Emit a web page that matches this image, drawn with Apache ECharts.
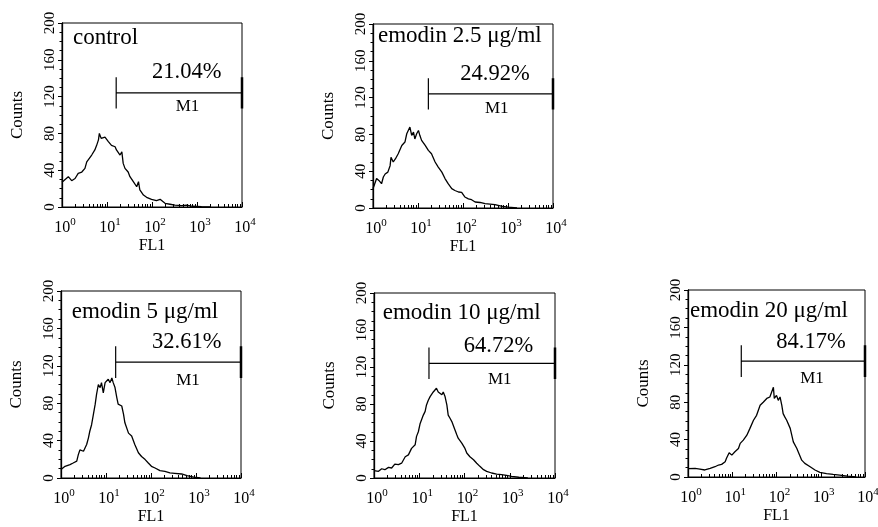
<!DOCTYPE html>
<html><head><meta charset="utf-8">
<script src="https://cdn.jsdelivr.net/npm/echarts@6/dist/echarts.min.js"></script>
<style>html,body{margin:0;padding:0;background:#fff}#c{width:878px;height:527px}</style>
</head><body><div id="c"></div>
<script>
// ---------- DATA ----------
const panelTitles = ['control', 'emodin 2.5 μg/ml', 'emodin 5 μg/ml', 'emodin 10 μg/ml', 'emodin 20 μg/ml'];
const gatePercents = ['21.04%', '24.92%', '32.61%', '64.72%', '84.17%'];
const gateName = 'M1';
const countTicks = [0, 40, 80, 120, 160, 200];
const fl1Decades = [0, 1, 2, 3, 4];
const fl1MinorTicks = [2,3,4,5,6,7,8,9, 20,30,40,50,60,70,80,90, 200,300,400,500,600,700,800,900, 2000,3000,4000,5000,6000,7000,8000,9000];

// gate (M1) start in FL1 units, end at 10^4; gate level & bar extents in counts
const gateStartFL1 = [16, 17, 16.4, 16.4, 16];
const gateEndFL1 = 10000;
const gateLevel = 124;
const gateBarLow = 107;
const gateBarHigh = 141;

// histogram outlines: position as log10(FL1), counts
const controlLogFL1 = [0.0,0.14,0.215,0.29,0.36,0.44,0.51,0.55,0.585,0.66,0.73,0.77,0.81,0.83,0.87,0.955,0.99,1.03,1.10,1.18,1.21,1.29,1.33,1.36,1.40,1.47,1.51,1.585,1.66,1.70,1.73,1.81,1.88,1.99,2.10,2.18,2.29,2.40,2.51,2.66,2.77,2.9,3.1,3.3];
const controlCounts = [27,33,28.6,31,36.6,38,42,49,51,56.5,62,67,73,80,74.6,76,78,71,67,65.5,62,56.5,60,47.4,42,38,33,27.5,22,27.5,18.5,13,10.5,8.3,7,8.3,4,3,2,1.5,2,0.8,0.3,0];

const e25LogFL1 = [0.0,0.08,0.13,0.19,0.23,0.27,0.33,0.38,0.40,0.45,0.50,0.56,0.60,0.64,0.67,0.71,0.75,0.79,0.82,0.86,0.90,0.93,0.97,1.01,1.04,1.08,1.16,1.23,1.30,1.38,1.45,1.53,1.60,1.67,1.75,1.82,1.90,1.97,2.04,2.12,2.19,2.27,2.38,2.49,2.60,2.71,2.85,3.0,3.2];
const e25Counts = [21,32,30,26.4,33.7,37,39,46,55,50,53.6,59,60.8,68,70,71.7,80.7,82.5,88,79,82.5,75,80.7,84.3,79,73.5,68,62.6,59,50,44.5,39,32,26.4,21,19,17.4,17,12,10,9,6.5,6,4.7,4.3,3.6,2,1,0];

const e5LogFL1 = [0.0,0.09,0.2,0.27,0.35,0.385,0.42,0.50,0.57,0.61,0.64,0.68,0.72,0.76,0.79,0.83,0.87,0.90,0.94,0.98,1.01,1.05,1.09,1.13,1.16,1.20,1.24,1.27,1.35,1.39,1.42,1.50,1.57,1.64,1.72,1.79,1.87,1.94,2.01,2.09,2.2,2.31,2.42,2.53,2.68,2.8,2.95,3.1];
const e5Counts = [9,12.5,14.3,16,18,25,30,28.6,35.8,43,50,57,68,79,89.5,100,96.7,102,91,102,104,105.6,102,107,102,96.7,86,79,77,68,59,48,45,35.8,27,23,19.7,16,12.5,10.7,7.9,7,5.4,5,4.3,2.5,1,0];

const e10LogFL1 = [0.0,0.10,0.17,0.24,0.32,0.39,0.46,0.54,0.61,0.69,0.76,0.83,0.91,0.94,0.98,1.02,1.05,1.09,1.13,1.16,1.20,1.24,1.27,1.31,1.35,1.38,1.42,1.46,1.50,1.53,1.57,1.61,1.64,1.68,1.72,1.79,1.83,1.86,1.94,2.01,2.05,2.12,2.20,2.27,2.34,2.42,2.49,2.60,2.71,2.82,2.93,3.04,3.2,3.4];
const e10Counts = [7.9,7.2,10,9,11.5,10.8,15,14.4,16,23,25,32,36,45,50,59,61,68,72,79,84,88,90,93,95,97,93,95,90,93,88,79,68,64.6,61,52,46.7,43,37.7,32,27,23,19.7,16,12.6,9,7.2,5.4,4.3,3.6,2.9,1.8,0.8,0];

const e20LogFL1 = [0.0,0.045,0.16,0.27,0.38,0.50,0.61,0.69,0.76,0.84,0.87,0.93,0.99,1.06,1.14,1.18,1.25,1.33,1.40,1.48,1.55,1.63,1.70,1.74,1.78,1.82,1.85,1.89,1.93,1.95,2.00,2.04,2.08,2.12,2.15,2.19,2.23,2.31,2.38,2.46,2.49,2.57,2.64,2.76,2.87,2.98,3.13,3.28,3.43,3.6,3.8];
const e20Counts = [9,10,9.2,8.5,7.5,9.2,11,12.8,13.5,16.3,20,26,23.4,27,30.5,36,39.4,44.7,52,60.7,66,76.7,80,78.5,84,82,85.6,87.3,96,84,87.3,82,85.6,76.7,67.8,64,60.7,52,37.6,30.5,27,18,14.6,11,7.5,5,3.6,2.8,2.1,1,0];

const histLogs = [controlLogFL1, e25LogFL1, e5LogFL1, e10LogFL1, e20LogFL1];
const histCounts = [controlCounts, e25Counts, e5Counts, e10Counts, e20Counts];

// ---------- LAYOUT ----------
const grids = [
  {left: 62, top: 23, width: 180, height: 184},
  {left: 373, top: 24, width: 180, height: 184},
  {left: 61, top: 291, width: 180, height: 187},
  {left: 374, top: 293, width: 181, height: 185},
  {left: 688, top: 290, width: 177, height: 187}
];
const textPos = [
  {title: [73, 38], pct: [186.7, 72.5], m1: [187.5, 106.7]},
  {title: [378, 35.5], pct: [495, 74], m1: [496.7, 108.3]},
  {title: [71.7, 312], pct: [186.7, 341.7], m1: [188, 380.8]},
  {title: [382.7, 312.5], pct: [498.5, 345.8], m1: [499.7, 380]},
  {title: [690, 310.5], pct: [811, 341.7], m1: [812, 379]}
];

const FONT = '"Liberation Serif","Times New Roman",serif';
const BLACK = '#000';

const option = {
  animation: false,
  backgroundColor: '#fff',
  grid: grids.map(g => ({
    left: g.left, top: g.top, width: g.width, height: g.height,
    show: true, borderColor: BLACK, borderWidth: 1, backgroundColor: 'transparent',
    containLabel: false, outerBoundsMode: 'none'
  })),
  xAxis: [],
  yAxis: [],
  series: [],
  graphic: []
};

const fl1Min = Math.pow(10, fl1Decades[0]);
const fl1Max = Math.pow(10, fl1Decades[fl1Decades.length - 1]);

grids.forEach((g, i) => {
  option.xAxis.push({
    type: 'log', logBase: 10, gridIndex: i, min: fl1Min, max: fl1Max, position: 'bottom',
    axisLine: {show: true, lineStyle: {color: BLACK, width: 1}},
    axisTick: {show: true, inside: true, length: 5, lineStyle: {color: BLACK, width: 1}},
    splitLine: {show: false},
    axisLabel: {
      show: true, margin: 10, color: BLACK, fontFamily: FONT, fontSize: 16,
      showMinLabel: true, showMaxLabel: true, hideOverlap: false,
      padding: [0, 0, 0, 6],
      formatter: v => '{b|10}{s|' + Math.round(Math.log10(v)) + '}',
      rich: {
        b: {fontSize: 16, fontFamily: FONT, color: BLACK, verticalAlign: 'bottom', lineHeight: 19},
        s: {fontSize: 11, fontFamily: FONT, color: BLACK, verticalAlign: 'top', lineHeight: 11}
      }
    },
    name: 'FL1', nameLocation: 'middle', nameGap: 31,
    nameTextStyle: {fontFamily: FONT, fontSize: 16, color: BLACK}
  });
  option.xAxis.push({
    type: 'log', logBase: 10, gridIndex: i, min: fl1Min, max: fl1Max, position: 'bottom',
    axisLine: {show: false}, axisLabel: {show: false}, splitLine: {show: false},
    axisTick: {show: true, inside: true, length: 3, customValues: fl1MinorTicks, lineStyle: {color: BLACK, width: 1}}
  });
  option.yAxis.push({
    type: 'value', gridIndex: i,
    min: countTicks[0], max: countTicks[countTicks.length - 1], interval: countTicks[1] - countTicks[0],
    axisLine: {show: true, lineStyle: {color: BLACK, width: 1.3}},
    axisTick: {show: true, inside: false, length: 4, lineStyle: {color: BLACK, width: 1}},
    minorTick: {show: true, splitNumber: 4, length: 2.5, lineStyle: {color: BLACK, width: 1}},
    splitLine: {show: false}, minorSplitLine: {show: false},
    axisLabel: {rotate: 90, margin: 4, fontSize: 15, fontFamily: FONT, color: BLACK, showMinLabel: true, showMaxLabel: true, hideOverlap: false},
    name: 'Counts', nameLocation: 'middle', nameGap: 36, nameRotate: 90,
    nameTextStyle: {fontSize: 17, fontFamily: FONT, color: BLACK}
  });

  const logs = histLogs[i], counts = histCounts[i];
  option.series.push({
    type: 'line', xAxisIndex: 2 * i, yAxisIndex: i, symbol: 'none', silent: true,
    lineStyle: {color: BLACK, width: 1.3},
    data: logs.map((d, k) => [Math.pow(10, d), counts[k]])
  });
  const gs = gateStartFL1[i];
  option.series.push({
    type: 'line', xAxisIndex: 2 * i, yAxisIndex: i, symbol: 'none', silent: true, clip: false,
    lineStyle: {color: BLACK, width: 1.2},
    data: [[gs, gateBarLow], [gs, gateBarHigh], [gs, gateLevel], [gateEndFL1, gateLevel]]
  });
  option.series.push({
    type: 'line', xAxisIndex: 2 * i, yAxisIndex: i, symbol: 'none', silent: true, clip: false,
    lineStyle: {color: BLACK, width: 2.5},
    data: [[gateEndFL1, gateBarLow], [gateEndFL1, gateBarHigh]]
  });

  const tp = textPos[i];
  option.graphic.push({
    type: 'text', silent: true,
    style: {text: panelTitles[i], x: tp.title[0], y: tp.title[1], fill: BLACK,
      font: '23px ' + FONT, textAlign: 'left', textVerticalAlign: 'middle'}
  });
  option.graphic.push({
    type: 'text', silent: true,
    style: {text: gatePercents[i], x: tp.pct[0], y: tp.pct[1], fill: BLACK,
      font: '22.5px ' + FONT, textAlign: 'center', textVerticalAlign: 'middle'}
  });
  option.graphic.push({
    type: 'text', silent: true,
    style: {text: gateName, x: tp.m1[0], y: tp.m1[1], fill: BLACK,
      font: '17px ' + FONT, textAlign: 'center', textVerticalAlign: 'middle'}
  });
});

const chart = echarts.init(document.getElementById('c'), null, {renderer: 'canvas'});
chart.setOption(option);
</script>
</body></html>
